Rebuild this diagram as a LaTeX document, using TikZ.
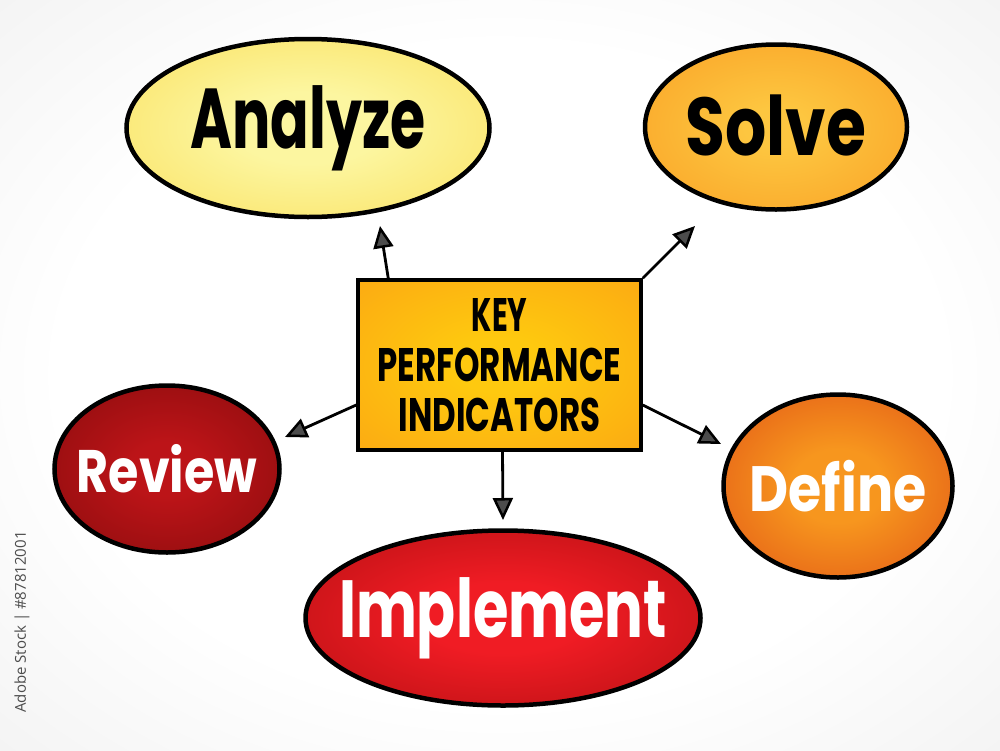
\documentclass[tikz,border=0pt]{standalone}
\usepackage{fontspec}
\setmainfont{Poppins}
\newfontfamily\wmfont{Open Sans}
\usetikzlibrary{shapes.geometric,arrows.meta}
\definecolor{bgout}{HTML}{D6D6D6}
\definecolor{anaIn}{HTML}{FCF6A0}
\definecolor{anaOut}{HTML}{F8D640}
\definecolor{solIn}{HTML}{FDC640}
\definecolor{solOut}{HTML}{F7911A}
\definecolor{revIn}{HTML}{BC1418}
\definecolor{revOut}{HTML}{720808}
\definecolor{defIn}{HTML}{F7961E}
\definecolor{defOut}{HTML}{D63612}
\definecolor{impIn}{HTML}{F01C24}
\definecolor{impOut}{HTML}{980A0A}
\definecolor{kpiIn}{HTML}{FEC90F}
\definecolor{kpiOut}{HTML}{FB9B14}
\pgfdeclareradialshading{bgsh}{\pgfpoint{0bp}{0bp}}{color(0bp)=(white); color(22bp)=(white); color(72bp)=(bgout)}
\pgfdeclareradialshading{anash}{\pgfpoint{0bp}{0bp}}{color(0bp)=(anaIn); color(10bp)=(anaIn); color(50bp)=(anaOut)}
\pgfdeclareradialshading{solsh}{\pgfpoint{0bp}{0bp}}{color(0bp)=(solIn); color(6bp)=(solIn); color(50bp)=(solOut)}
\pgfdeclareradialshading{revsh}{\pgfpoint{0bp}{0bp}}{color(0bp)=(revIn); color(8bp)=(revIn); color(50bp)=(revOut)}
\pgfdeclareradialshading{defsh}{\pgfpoint{0bp}{0bp}}{color(0bp)=(defIn); color(10bp)=(defIn); color(50bp)=(defOut)}
\pgfdeclareradialshading{impsh}{\pgfpoint{0bp}{0bp}}{color(0bp)=(impIn); color(10bp)=(impIn); color(50bp)=(impOut)}
\pgfdeclareradialshading{kpish}{\pgfpoint{0bp}{0bp}}{color(0bp)=(kpiIn); color(8bp)=(kpiIn); color(50bp)=(kpiOut)}
\newcommand{\hs}[2]{\makebox[0pt]{\scalebox{#1}[1]{#2}}}
\tikzset{
  bubble/.style={ellipse, draw=black, line width=4.5pt, inner sep=0pt},
  kpibox/.style={rectangle, draw=black, line width=3.5pt, shading=kpish, inner sep=0pt},
  arr/.style={line width=2.8pt, draw=black, -{Triangle[length=22pt, width=20pt, line width=2.5pt, fill=black!70]}},
}
\begin{document}
\begin{tikzpicture}[x=1pt,y=-1pt]
\useasboundingbox (0,0) rectangle (1000,750);
\shade[shading=bgsh] (0,0) rectangle (1000,750);

\node[bubble, shading=anash, minimum width=363pt, minimum height=178pt,
      font=\bfseries\fontsize{85}{90}\selectfont] (ana) at (308,128) {\hs{0.67}{Analyze}};
\node[bubble, shading=solsh, minimum width=262pt, minimum height=165pt,
      font=\bfseries\fontsize{82}{86}\selectfont] (sol) at (776,127) {\raisebox{3pt}{\hs{0.79}{Solve}}};
\node[bubble, shading=revsh, minimum width=225pt, minimum height=167pt, text=white,
      font=\bfseries\fontsize{60}{64}\selectfont] (rev) at (167,469) {\hs{0.82}{Review}};
\node[bubble, shading=defsh, minimum width=229pt, minimum height=183pt, text=white,
      font=\bfseries\fontsize{64}{68}\selectfont] (def) at (838,486) {\hs{0.84}{Define}};
\node[bubble, shading=impsh, minimum width=395pt, minimum height=175pt, text=white,
      font=\bfseries\fontsize{81}{85}\selectfont] (imp) at (503,618) {\hs{0.71}{Implement}};

\node[kpibox, minimum width=283pt, minimum height=170pt, align=center,
      font=\bfseries\fontsize{47}{50}\selectfont] (kpi) at (499.5,365)
      {\hs{0.62}{KEY}\\\hs{0.69}{PERFORMANCE}\\\hs{0.69}{INDICATORS}};

\coordinate (ta) at (380,226);
\coordinate (ts) at (695,226);
\coordinate (tr) at (285,437);
\coordinate (td) at (721,444);
\coordinate (ti) at (503,520);
\draw[arr] ([xshift=32pt]kpi.north west) -- (ta);
\draw[arr] (kpi.north east) -- (ts);
\draw[arr] ([yshift=-40pt]kpi.west) -- (tr);
\draw[arr] ([yshift=-40pt]kpi.east) -- (td);
\draw[arr] ([xshift=3pt]kpi.south) -- (ti);

\node[rotate=90, text=black!70, font=\wmfont\fontsize{15}{18}\selectfont] (wm) at (22,622) {Adobe Stock | \#87812001};
\end{tikzpicture}
\end{document}
